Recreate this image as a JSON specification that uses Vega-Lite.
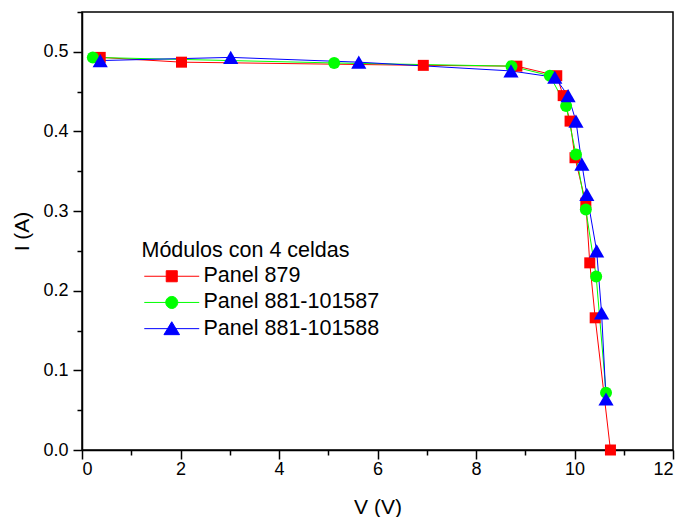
{
  "$schema": "https://vega.github.io/schema/vega-lite/v6.json",
  "width": 591,
  "height": 438,
  "autosize": {"type": "none"},
  "padding": {"left": 82, "top": 12, "right": 12, "bottom": 67},
  "background": "white",
  "config": {
    "font": "Liberation Sans",
    "view": {"stroke": "black", "strokeWidth": 1.5},
    "axis": {
      "domainColor": "black", "domainWidth": 1.5,
      "tickColor": "black", "tickWidth": 1.5,
      "labelColor": "black", "labelFontSize": 18, "labelFont": "Liberation Sans",
      "titleColor": "black", "titleFontSize": 21, "titleFontWeight": "normal", "titleFont": "Liberation Sans",
      "grid": false
    }
  },
  "data": {
    "values": [
      {"V": 0.37, "I": 0.493, "s": "Panel 879"},
      {"V": 2.02, "I": 0.487, "s": "Panel 879"},
      {"V": 6.93, "I": 0.483, "s": "Panel 879"},
      {"V": 8.83, "I": 0.482, "s": "Panel 879"},
      {"V": 9.64, "I": 0.470, "s": "Panel 879"},
      {"V": 9.77, "I": 0.445, "s": "Panel 879"},
      {"V": 9.91, "I": 0.413, "s": "Panel 879"},
      {"V": 10.01, "I": 0.367, "s": "Panel 879"},
      {"V": 10.23, "I": 0.310, "s": "Panel 879"},
      {"V": 10.31, "I": 0.235, "s": "Panel 879"},
      {"V": 10.42, "I": 0.166, "s": "Panel 879"},
      {"V": 10.73, "I": 0.0, "s": "Panel 879"},
      {"V": 0.22, "I": 0.493, "s": "Panel 881-101587"},
      {"V": 5.12, "I": 0.486, "s": "Panel 881-101587"},
      {"V": 8.72, "I": 0.482, "s": "Panel 881-101587"},
      {"V": 9.50, "I": 0.470, "s": "Panel 881-101587"},
      {"V": 9.83, "I": 0.432, "s": "Panel 881-101587"},
      {"V": 10.03, "I": 0.371, "s": "Panel 881-101587"},
      {"V": 10.23, "I": 0.302, "s": "Panel 881-101587"},
      {"V": 10.44, "I": 0.218, "s": "Panel 881-101587"},
      {"V": 10.64, "I": 0.072, "s": "Panel 881-101587"},
      {"V": 0.37, "I": 0.489, "s": "Panel 881-101588"},
      {"V": 3.02, "I": 0.493, "s": "Panel 881-101588"},
      {"V": 5.62, "I": 0.487, "s": "Panel 881-101588"},
      {"V": 8.71, "I": 0.476, "s": "Panel 881-101588"},
      {"V": 9.60, "I": 0.468, "s": "Panel 881-101588"},
      {"V": 9.87, "I": 0.445, "s": "Panel 881-101588"},
      {"V": 10.03, "I": 0.413, "s": "Panel 881-101588"},
      {"V": 10.15, "I": 0.359, "s": "Panel 881-101588"},
      {"V": 10.25, "I": 0.321, "s": "Panel 881-101588"},
      {"V": 10.45, "I": 0.250, "s": "Panel 881-101588"},
      {"V": 10.55, "I": 0.172, "s": "Panel 881-101588"},
      {"V": 10.64, "I": 0.064, "s": "Panel 881-101588"}
    ]
  },
  "encoding": {
    "x": {
      "field": "V", "type": "quantitative",
      "scale": {"domain": [0, 12], "nice": false, "zero": false},
      "axis": {
        "title": "V (V)",
        "values": [0,1,2,3,4,5,6,7,8,9,10,11,12],
        "labelExpr": "datum.value % 2 === 0 ? datum.label : ''",
        "tickSize": {"condition": {"test": "datum.value % 2 === 0", "value": 9}, "value": 5},
        "labelPadding": 1,
        "titlePadding": 18
      }
    },
    "y": {
      "field": "I", "type": "quantitative",
      "scale": {"domain": [0, 0.55], "nice": false, "zero": false},
      "axis": {
        "title": "I (A)",
        "values": [0,0.05,0.1,0.15,0.2,0.25,0.3,0.35,0.4,0.45,0.5,0.55],
        "format": ".1f",
        "labelExpr": "round(datum.value*20) % 2 === 0 ? datum.label : ''",
        "tickSize": {"condition": {"test": "round(datum.value*20) % 2 === 0", "value": 9}, "value": 5},
        "labelPadding": 5,
        "titlePadding": 10
      }
    }
  },
  "layer": [
    {
      "mark": {"type": "line", "strokeWidth": 1},
      "encoding": {
        "color": {
          "field": "s", "type": "nominal",
          "scale": {"domain": ["Panel 879", "Panel 881-101587", "Panel 881-101588"], "range": ["#ff0000", "#00ff00", "#0000ff"]},
          "legend": {
            "orient": "none",
            "legendX": 60,
            "legendY": 228,
            "padding": 0,
            "title": "Módulos con 4 celdas",
            "titleFontSize": 21.5,
            "titleFontWeight": "normal",
            "titleColor": "black",
            "titlePadding": 4,
            "titleLimit": 500,
            "labelFontSize": 21.5,
            "labelColor": "black",
            "labelOffset": 21,
            "labelLimit": 500,
            "rowPadding": 3.2,
            "symbolSize": 144,
            "symbolStrokeWidth": 1,
            "encode": {
              "title": {"update": {"dx": {"value": -19.5}}},
              "symbols": {"update": {
                "shape": {"signal": "datum.value === 'Panel 879' ? 'M-4.58,0L4.58,0M-0.92,-0.92L0.92,-0.92L0.92,0.92L-0.92,0.92Z' : datum.value === 'Panel 881-101587' ? 'M-4.58,0L4.58,0M1,0A1,1,0,1,1,-1,0A1,1,0,1,1,1,0Z' : 'M-4.58,0L4.58,0M0,-1.15L1.3,1.0L-1.3,1.0Z'"},
                "fill": {"signal": "datum.value === 'Panel 879' ? '#ff0000' : datum.value === 'Panel 881-101587' ? '#00ff00' : '#0000ff'"},
                "stroke": {"signal": "datum.value === 'Panel 879' ? '#ff0000' : datum.value === 'Panel 881-101587' ? '#00ff00' : '#0000ff'"},
                "strokeWidth": {"value": 1},
                "strokeOpacity": {"value": 1},
                "opacity": {"value": 1},
                "fillOpacity": {"value": 1}
              }}
            }
          }
        }
      }
    },
    {
      "transform": [{"filter": "datum.s === 'Panel 879'"}],
      "mark": {"type": "point", "filled": true, "opacity": 1, "shape": "square", "size": 121, "color": "#ff0000"}
    },
    {
      "transform": [{"filter": "datum.s === 'Panel 881-101587'"}],
      "mark": {"type": "point", "filled": true, "opacity": 1, "shape": "circle", "size": 144, "color": "#00ff00"}
    },
    {
      "transform": [{"filter": "datum.s === 'Panel 881-101588'"}],
      "mark": {"type": "point", "filled": true, "opacity": 1, "shape": "triangle-up", "size": 230, "color": "#0000ff"}
    }
  ]
}
